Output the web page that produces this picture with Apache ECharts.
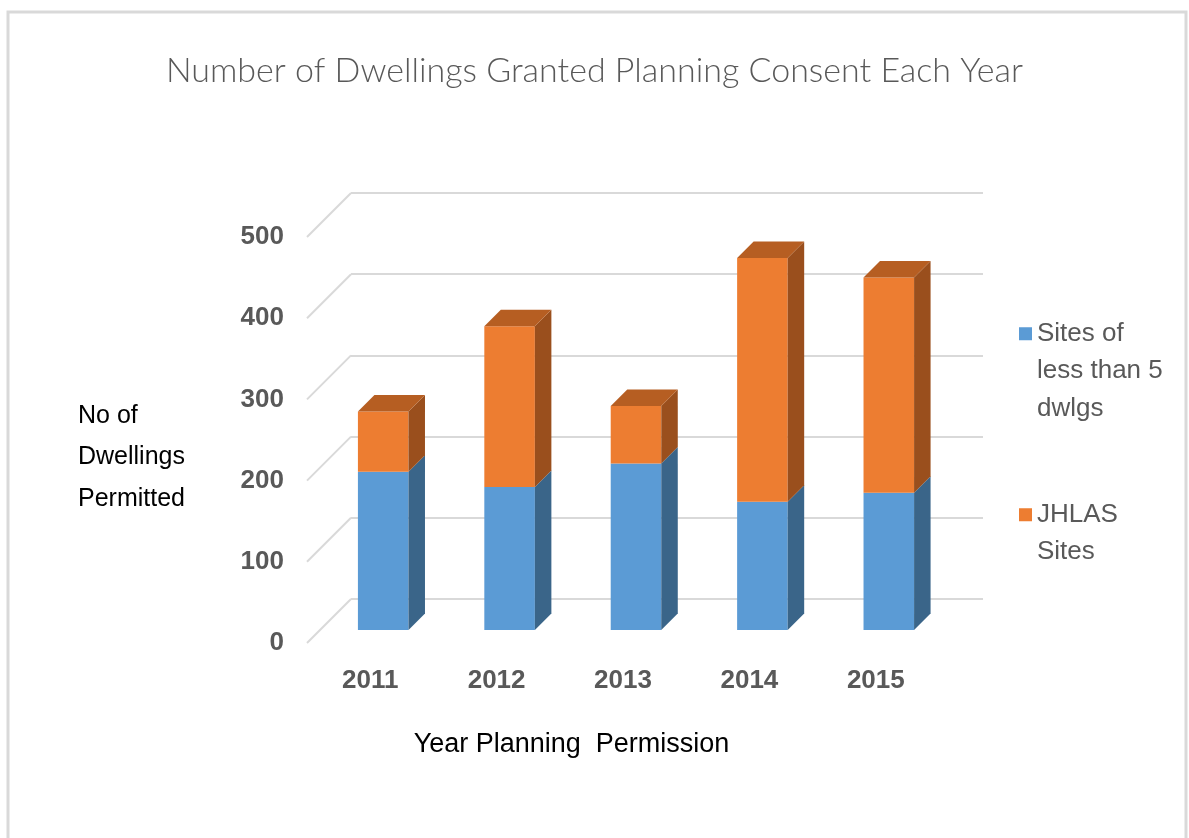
<!DOCTYPE html>
<html>
<head>
<meta charset="utf-8">
<title>Number of Dwellings Granted Planning Consent Each Year</title>
<script src="https://cdn.jsdelivr.net/npm/echarts@6/dist/echarts.min.js"></script>
<style>
  html, body { margin: 0; padding: 0; background: #fff; }
  #chart { width: 1189px; height: 838px; }
</style>
</head>
<body>
<div id="chart"></div>
<script>
// data
const years = ['2011', '2012', '2013', '2014', '2015'];
const smallSites = [195, 176, 205, 158, 169];
const jhlasSites = [74, 198, 71, 300, 265];
const yTicks = [0, 100, 200, 300, 400, 500];
const seriesNames = ['Sites of less than 5 dwlgs', 'JHLAS Sites'];
const legendLabels = ['Sites of\nless than 5\ndwlgs', 'JHLAS\nSites\n '];

// fake 3D: 45 degree oblique offsets in px
const BAR_DEPTH = 16.5;
const WALL_DEPTH = 31;  // bar fronts -> back wall
const FLOOR_EDGE = 13;  // bar fronts -> front edge of floor
const PLOT = { left: 320, top: 224, width: 632, height: 406 };

const palette = [
  { front: '#5b9bd5', side: '#3a6589', top: '#4a7fb0' },
  { front: '#ed7d31', side: '#9a4f1d', top: '#b65e22' }
];

function gridAt(shift) {
  return { left: PLOT.left + shift, top: PLOT.top - shift, width: PLOT.width, height: PLOT.height };
}

function boxRenderer(pal, withTop) {
  return function (params, api) {
    const i = api.value(0);
    const lo = api.coord([i, api.value(1)]);
    const hi = api.coord([i, api.value(2)]);
    const w = api.size([1, 0])[0] * 0.4;
    const x1 = lo[0] - w / 2, x2 = lo[0] + w / 2;
    const d = BAR_DEPTH;
    const parts = [
      { type: 'rect', shape: { x: x1, y: hi[1], width: w, height: lo[1] - hi[1] }, style: { fill: pal.front } },
      { type: 'polygon', shape: { points: [[x2, lo[1]], [x2 + d, lo[1] - d], [x2 + d, hi[1] - d], [x2, hi[1]]] }, style: { fill: pal.side } }
    ];
    if (withTop) {
      parts.push({ type: 'polygon', shape: { points: [[x1, hi[1]], [x2, hi[1]], [x2 + d, hi[1] - d], [x1 + d, hi[1] - d]] }, style: { fill: pal.top } });
    }
    return { type: 'group', children: parts };
  };
}

const lowerData = years.map((y, i) => [i, 0, smallSites[i]]);
const upperData = years.map((y, i) => [i, smallSites[i], smallSites[i] + jhlasSites[i]]);

const labelFont = { fontFamily: 'Liberation Sans', fontSize: 26, fontWeight: 'bold', color: '#595959' };
const hiddenAxis = { show: false };

const chart = echarts.init(document.getElementById('chart'));
chart.setOption({
  animation: false,
  backgroundColor: '#fff',
  graphic: [{
    type: 'rect', z: -10, silent: true,
    shape: { x: 8, y: 12, width: 1178, height: 900 },
    style: { fill: '#fff', stroke: '#d9d9d9', lineWidth: 3 }
  }],
  title: [{
    text: 'Number of Dwellings Granted Planning Consent Each Year',
    left: 'center', top: 49,
    textStyle: { fontFamily: 'Lato', fontWeight: 300, fontSize: 34, color: '#595959' }
  }, {
    text: 'No of\nDwellings\nPermitted',
    left: 73, top: 390,
    textStyle: { fontFamily: 'Liberation Sans', fontWeight: 'normal', fontSize: 25, lineHeight: 41.5, color: '#000' }
  }],
  legend: {
    orient: 'vertical', left: 1019, top: 315, padding: 0,
    itemWidth: 13, itemHeight: 88, itemGap: 68.5,
    icon: 'path://M0,0h13v13h-13z M0,87.9h0.1v0.1h-0.1z',
    data: seriesNames,
    formatter: name => legendLabels[seriesNames.indexOf(name)],
    textStyle: { fontFamily: 'Liberation Sans', fontSize: 26, lineHeight: 37.5, color: '#595959' }
  },
  grid: [gridAt(0), gridAt(WALL_DEPTH), gridAt(-FLOOR_EDGE)],
  xAxis: [
    { gridIndex: 0, type: 'category', data: years, show: false },
    { gridIndex: 1, type: 'category', data: years, show: false },
    {
      gridIndex: 2, type: 'category', data: years,
      axisLine: hiddenAxis, axisTick: hiddenAxis,
      axisLabel: Object.assign({ margin: 25 }, labelFont),
      name: 'Year Planning  Permission', nameLocation: 'middle', nameGap: 88,
      nameTextStyle: { fontFamily: 'Liberation Sans', fontSize: 27, color: '#000', padding: [0, 103, 0, 0] }
    }
  ],
  yAxis: [
    { gridIndex: 0, type: 'value', min: 0, max: 500, interval: 100, show: false },
    {
      gridIndex: 1, type: 'value', min: 0, max: 500, interval: 100,
      axisLine: hiddenAxis, axisTick: hiddenAxis, axisLabel: hiddenAxis,
      splitLine: { show: true, lineStyle: { color: '#d9d9d9', width: 2 } }
    },
    {
      gridIndex: 2, type: 'value', min: 0, max: 500, interval: 100,
      axisLine: hiddenAxis, axisTick: hiddenAxis, splitLine: hiddenAxis,
      axisLabel: Object.assign({ margin: 23 }, labelFont)
    }
  ],
  series: [
    {
      // floor diagonals joining the wall gridlines to the front edge
      type: 'custom', xAxisIndex: 1, yAxisIndex: 1, silent: true, z: 1,
      data: yTicks.map(v => [0, v]),
      renderItem: (params, api) => {
        const p = api.coord([0, api.value(1)]);
        const x0 = p[0] - api.size([1, 0])[0] / 2;
        const reach = WALL_DEPTH + FLOOR_EDGE;
        return {
          type: 'line',
          shape: { x1: x0, y1: p[1], x2: x0 - reach, y2: p[1] + reach },
          style: { stroke: '#d9d9d9', lineWidth: 2 }
        };
      }
    },
    {
      name: seriesNames[0], type: 'custom', xAxisIndex: 0, yAxisIndex: 0, z: 3,
      itemStyle: { color: palette[0].front },
      data: lowerData, renderItem: boxRenderer(palette[0], false)
    },
    {
      name: seriesNames[1], type: 'custom', xAxisIndex: 0, yAxisIndex: 0, z: 3,
      itemStyle: { color: palette[1].front },
      data: upperData, renderItem: boxRenderer(palette[1], true)
    }
  ]
});
</script>
</body>
</html>
